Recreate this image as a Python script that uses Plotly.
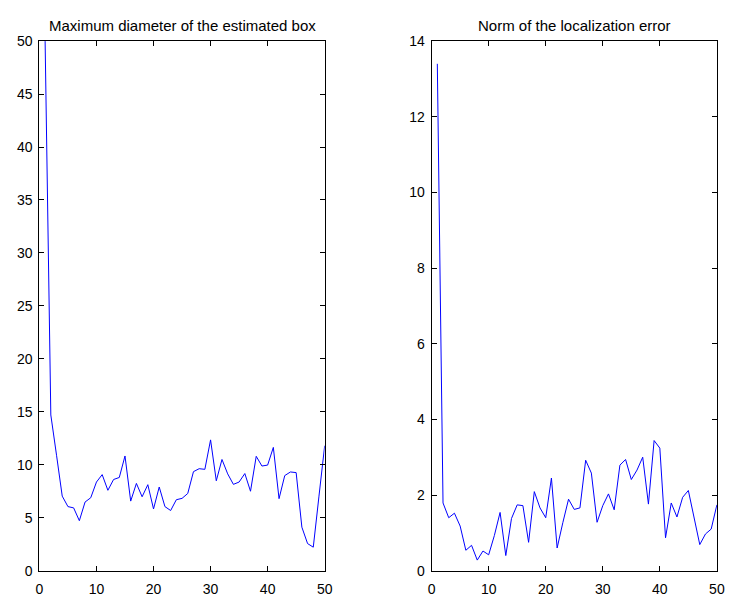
import plotly.graph_objects as go

iterations = list(range(1, 51))
max_diameter = [50.0, 14.7, 10.9, 7.04, 6.05, 5.93, 4.72, 6.48, 6.89, 8.37,
                9.07, 7.59, 8.61, 8.8, 10.83, 6.57, 8.24, 6.98, 8.12, 5.83,
                7.9, 6.05, 5.68, 6.7, 6.83, 7.29, 9.35, 9.63, 9.57, 12.35,
                8.49, 10.5, 9.14, 8.15, 8.37, 9.17, 7.5, 10.8, 9.88, 9.97,
                11.64, 6.8, 8.98, 9.32, 9.26, 4.11, 2.56, 2.22, 7.04, 11.8]
loc_error = [13.4, 1.79, 1.40, 1.52, 1.18, 0.54, 0.67, 0.28, 0.52, 0.42,
             0.93, 1.54, 0.40, 1.38, 1.74, 1.72, 0.75, 2.09, 1.66, 1.40,
             2.45, 0.60, 1.27, 1.89, 1.62, 1.66, 2.92, 2.58, 1.28, 1.72,
             2.03, 1.61, 2.79, 2.94, 2.41, 2.66, 3.0, 1.76, 3.44, 3.24,
             0.87, 1.79, 1.42, 1.94, 2.12, 1.40, 0.69, 0.97, 1.10, 1.74]
titles = ["Maximum diameter of the estimated box", "Norm of the localization error"]

W, H = 736, 604
fig = go.Figure()
fig.add_trace(go.Scatter(x=iterations, y=max_diameter, mode="lines",
                         line=dict(color="#0000ff", width=1), xaxis="x", yaxis="y",
                         showlegend=False))
fig.add_trace(go.Scatter(x=iterations, y=loc_error, mode="lines",
                         line=dict(color="#0000ff", width=1), xaxis="x2", yaxis="y2",
                         showlegend=False))

ydom = [26 / H, 570 / H]
dom1 = [36 / W, 326 / W]
dom2 = [434.7 / W, 724.7 / W]
tickfont = dict(family="Liberation Sans, Arial, sans-serif", size=14, color="black")
titlefont = dict(family="Liberation Sans, Arial, sans-serif", size=15, color="black")
axcommon = dict(showgrid=False, zeroline=False, showline=True, linecolor="black",
                linewidth=1, mirror="ticks", ticks="inside", ticklen=5,
                tickcolor="black", tickfont=tickfont)

fig.update_layout(
    width=W, height=H, margin=dict(l=0, r=0, t=0, b=0),
    paper_bgcolor="white", plot_bgcolor="white", font=tickfont,
    xaxis=dict(domain=dom1, range=[0, 50], dtick=10, anchor="y",
               ticklabelstandoff=6, **axcommon),
    yaxis=dict(domain=ydom, range=[0, 50], dtick=5, anchor="x",
               ticklabelstandoff=3, **axcommon),
    xaxis2=dict(domain=dom2, range=[0, 50], dtick=10, anchor="y2",
                ticklabelstandoff=6, **axcommon),
    yaxis2=dict(domain=ydom, range=[0, 14], dtick=2, anchor="x2",
                ticklabelstandoff=3, **axcommon),
    annotations=[
        dict(text=titles[0], x=(dom1[0] + dom1[1]) / 2, y=1 - 17.5 / H, xref="paper",
             yref="paper", showarrow=False, font=titlefont, xanchor="center", yanchor="middle"),
        dict(text=titles[1], x=(dom2[0] + dom2[1]) / 2, y=1 - 17.5 / H, xref="paper",
             yref="paper", showarrow=False, font=titlefont, xanchor="center", yanchor="middle"),
    ],
)
fig.write_html("out.html")
